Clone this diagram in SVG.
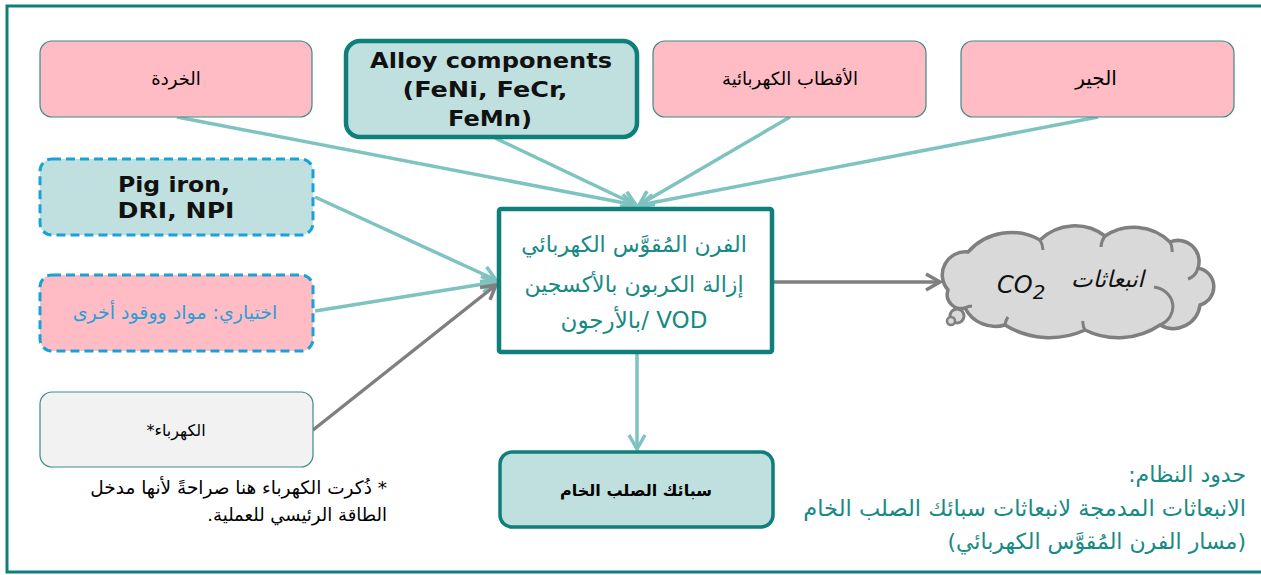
<svg xmlns="http://www.w3.org/2000/svg" width="1261" height="575" viewBox="0 0 1261 575">
  <style>
    .frame { fill: #ffffff; stroke: #0e7f7a; stroke-width: 3; }
    .pink { fill: #ffbcc5; stroke: #3b8b87; stroke-width: 1.2; }
    .grey { fill: #f2f2f2; stroke: #3b8b87; stroke-width: 1.2; }
    .alloy { fill: #bfe0de; stroke: #0e7f7a; stroke-width: 4.5; }
    .dashTeal { fill: #bfe0de; stroke: #1ba1d8; stroke-width: 3; stroke-dasharray: 9 5; }
    .dashPink { fill: #ffbcc5; stroke: #1ba1d8; stroke-width: 3; stroke-dasharray: 9 5; }
    .main { fill: #ffffff; stroke: #0e7f7a; stroke-width: 4.5; }
    .out { fill: #bfe0de; stroke: #0e7f7a; stroke-width: 3.5; }
    .ar { font-family: "DejaVu Sans", "Noto Sans", sans-serif; direction: rtl; }
    .lbl { font-size: 18px; fill: #000000; text-anchor: middle; }
    .en { font-family: "DejaVu Sans", sans-serif; font-weight: bold; font-size: 22px; fill: #111111; text-anchor: middle; }
    .teal { fill: #178a84; }
    .link { fill: none; stroke: #7ec3bf; stroke-width: 3.5; }
    .linkGrey { fill: none; stroke: #7f7f7f; stroke-width: 3.5; }
    .cloud { fill: #d9d9d9; stroke: #7f7f7f; stroke-width: 3.5; }
  </style>
  <defs>
    <marker id="headTeal" markerUnits="userSpaceOnUse" markerWidth="20" markerHeight="20" refX="16" refY="10" orient="auto">
      <path d="M2,2 L16,10 L2,18" fill="none" stroke="#7ec3bf" stroke-width="3.5"/>
    </marker>
    <marker id="headGrey" markerUnits="userSpaceOnUse" markerWidth="20" markerHeight="20" refX="16" refY="10" orient="auto">
      <path d="M2,2 L16,10 L2,18" fill="none" stroke="#7f7f7f" stroke-width="3.5"/>
    </marker>
  </defs>

  <!-- system boundary frame (runs off the right edge) -->
  <rect class="frame" x="7" y="6" width="1270" height="566"/>

  <!-- connectors -->
  <g id="connectors">
    <line class="link" x1="177" y1="117" x2="635" y2="205" marker-end="url(#headTeal)"/>
    <line class="link" x1="495" y1="138" x2="636" y2="205" marker-end="url(#headTeal)"/>
    <line class="link" x1="790" y1="117" x2="639" y2="205" marker-end="url(#headTeal)"/>
    <line class="link" x1="1098" y1="117" x2="640" y2="205" marker-end="url(#headTeal)"/>
    <line class="link" x1="315" y1="197" x2="496" y2="280" marker-end="url(#headTeal)"/>
    <line class="link" x1="315" y1="311" x2="496" y2="282" marker-end="url(#headTeal)"/>
    <line class="linkGrey" x1="313" y1="430" x2="496" y2="285" marker-end="url(#headGrey)"/>
    <line class="linkGrey" x1="773" y1="282" x2="940" y2="282" marker-end="url(#headGrey)"/>
    <line class="link" x1="637" y1="354" x2="637" y2="449" marker-end="url(#headTeal)"/>
  </g>

  <g id="scrap">
    <rect class="pink" x="40" y="41" width="272" height="76" rx="12"/>
    <text class="ar lbl" x="176" y="85">الخردة</text>
  </g>

  <g id="alloy">
    <rect class="alloy" x="346" y="41" width="291" height="96" rx="14"/>
    <text class="en" x="491" y="68" textLength="242" lengthAdjust="spacingAndGlyphs">Alloy components</text>
    <text class="en" x="485" y="97" textLength="165" lengthAdjust="spacingAndGlyphs">(FeNi, FeCr,</text>
    <text class="en" x="490" y="126" textLength="84" lengthAdjust="spacingAndGlyphs">FeMn)</text>
  </g>

  <g id="electrodes">
    <rect class="pink" x="653" y="41" width="273" height="76" rx="12"/>
    <text class="ar lbl" x="790" y="85">الأقطاب الكهربائية</text>
  </g>

  <g id="lime">
    <rect class="pink" x="961" y="41" width="273" height="76" rx="12"/>
    <text class="ar lbl" x="1096" y="85" style="font-size:20px">الجير</text>
  </g>

  <g id="pigIron">
    <rect class="dashTeal" x="40" y="159" width="273" height="76" rx="12"/>
    <text class="en" x="174" y="192" textLength="112" lengthAdjust="spacingAndGlyphs">Pig iron,</text>
    <text class="en" x="176" y="218" textLength="117" lengthAdjust="spacingAndGlyphs">DRI, NPI</text>
  </g>

  <g id="optional">
    <rect class="dashPink" x="40" y="275" width="273" height="76" rx="12"/>
    <text class="ar lbl" x="175" y="319" style="fill:#2a9fd6;font-size:19px">اختياري: مواد ووقود أخرى</text>
  </g>

  <g id="electricity">
    <rect class="grey" x="40" y="392" width="273" height="75" rx="12"/>
    <text class="ar lbl" x="176" y="436" style="font-size:16px">الكهرباء*</text>
  </g>

  <g id="footnote">
    <text class="ar" x="387" y="494" style="font-size:18.5px;fill:#000000;text-anchor:start">* ذُكرت الكهرباء  هنا صراحةً لأنها مدخل</text>
    <text class="ar" x="387" y="521" style="font-size:18px;fill:#000000;text-anchor:start">الطاقة الرئيسي للعملية.</text>
  </g>

  <g id="eaf">
    <rect class="main" x="499" y="209" width="273" height="143" rx="2"/>
    <text class="ar teal" x="634" y="252" style="font-size:22px;text-anchor:middle">الفرن المُقوَّس الكهربائي</text>
    <text class="ar teal" x="634" y="292" style="font-size:22px;text-anchor:middle">إزالة الكربون بالأكسجين</text>
    <text class="ar teal" x="634" y="328" style="font-size:23px;text-anchor:middle">VOD /بالأرجون</text>
  </g>

  <g id="emissions">
    <path class="cloud" d="M948,290 A23,23 0 0 1 968,252 A58,58 0 0 1 1040,240 A50,50 0 0 1 1105,236 A52,52 0 0 1 1170,242 A21,21 0 0 1 1198,268 A19,19 0 0 1 1200,305 A27,27 0 0 1 1160,325 A75,75 0 0 1 1085,330 A85,85 0 0 1 1005,325 A34,34 0 0 1 965,308 A14,14 0 0 1 948,290 Z"/>
    <path d="M1040,240 A20,20 0 0 1 1043,250 M1105,236 A20,20 0 0 0 1101,247 M1170,242 A16,16 0 0 1 1172,252 M1198,268 A16,16 0 0 1 1188,279 M1160,325 A22,20 0 0 0 1154,287 M1085,330 A30,20 0 0 1 1083,321 M1005,325 A24,18 0 0 1 1008,317 M965,308 A14,14 0 0 1 972,306" fill="none" stroke="#7f7f7f" stroke-width="3"/>
    <circle cx="957" cy="316" r="7" fill="#d9d9d9" stroke="#7f7f7f" stroke-width="3"/>
    <circle cx="951" cy="321" r="4" fill="#d9d9d9" stroke="#7f7f7f" stroke-width="2.5"/>
    <text x="997" y="293" style="font-family:'DejaVu Sans',sans-serif;font-style:italic;font-size:24px;fill:#111111">CO<tspan dy="6" font-size="20">2</tspan></text>
    <text class="ar" x="1144" y="287" style="font-style:italic;font-size:23px;fill:#111111;text-anchor:start">انبعاثات</text>
  </g>

  <g id="crudeSteel">
    <rect class="out" x="500" y="452" width="273" height="75" rx="12"/>
    <text class="ar" x="636" y="496" style="font-size:16px;font-weight:bold;fill:#000000;text-anchor:middle">سبائك الصلب الخام</text>
  </g>

  <g id="boundaryNote">
    <text class="ar teal" x="1246" y="482" style="font-size:22px;text-anchor:start">حدود النظام:</text>
    <text class="ar teal" x="1246" y="516" style="font-size:22.5px;text-anchor:start">الانبعاثات المدمجة لانبعاثات سبائك الصلب الخام</text>
    <text class="ar teal" x="1246" y="549" style="font-size:22px;text-anchor:start">(مسار الفرن المُقوَّس الكهربائي)</text>
  </g>
</svg>
